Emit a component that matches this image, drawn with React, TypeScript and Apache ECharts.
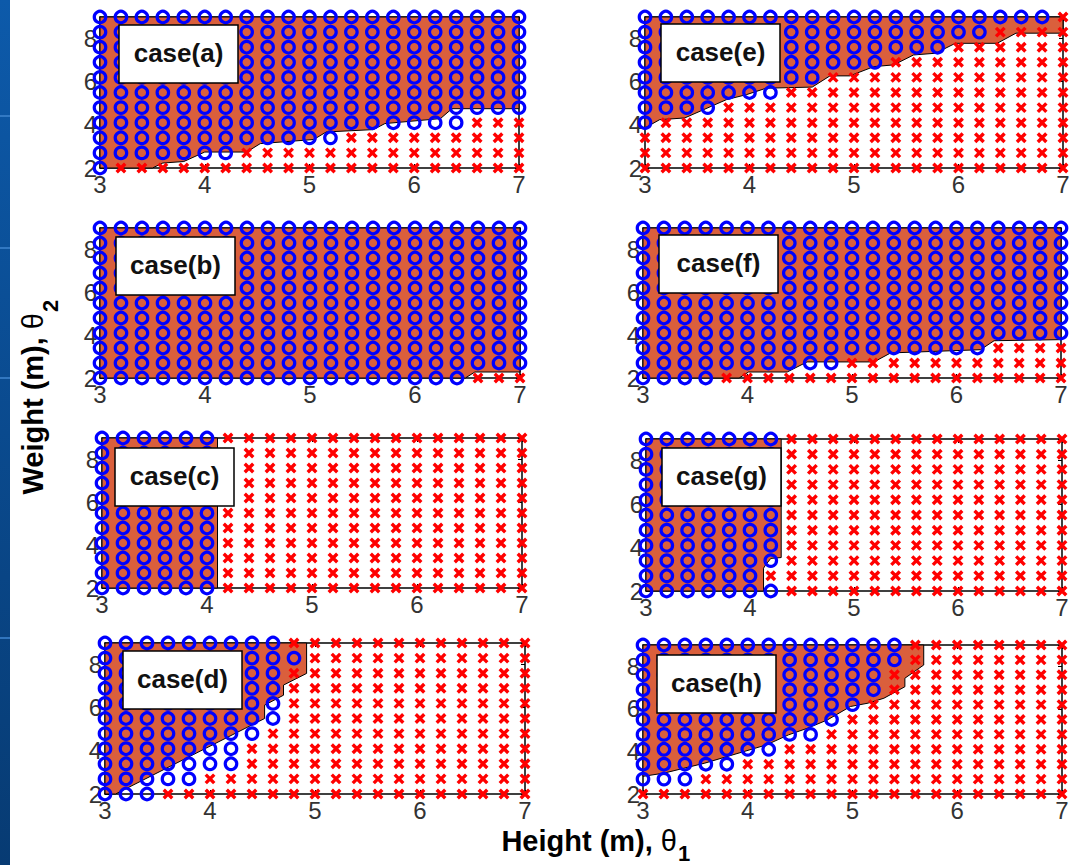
import React, { useEffect, useRef } from "react";
import * as echarts from "echarts";

// Sampling grid of the two parameters
const gridX = [3, 3.2, 3.4, 3.6, 3.8, 4, 4.2, 4.4, 4.6, 4.8, 5, 5.2, 5.4, 5.6, 5.8, 6, 6.2, 6.4, 6.6, 6.8, 7];
const gridY = [2, 2.7, 3.4, 4.1, 4.8, 5.5, 6.2, 6.9, 7.6, 8.3, 9];

// Number of grid columns (counted from the left) marked "o" in each row, bottom row first
const circlesA = [1, 7, 12, 18, 21, 21, 21, 21, 21, 21, 21];
const circlesB = [18, 21, 21, 21, 21, 21, 21, 21, 21, 21, 21];
const circlesC = [6, 6, 6, 6, 6, 6, 6, 6, 6, 6, 6];
const circlesD = [3, 5, 7, 7, 8, 9, 9, 9, 9, 10, 9];
const circlesE = [0, 0, 0, 1, 4, 7, 9, 12, 15, 17, 20];
const circlesF = [4, 10, 17, 21, 21, 21, 21, 21, 21, 21, 21];
const circlesG = [7, 6, 7, 7, 7, 7, 7, 7, 7, 7, 7];
const circlesH = [0, 3, 5, 7, 9, 10, 11, 12, 12, 13, 13];

// Outlines of the shaded feasible regions, [θ1, θ2]
const regionA = [[3, 9], [7, 9], [7, 4.75], [6.36, 4.75], [6.25, 4.29], [5.72, 4.06], [5.61, 3.78], [5.16, 3.67], [5.04, 3.32], [4.53, 3.13], [4.4, 2.74], [4.0, 2.74], [3.8, 2.3], [3.6, 2.23], [3.5, 2], [3, 2]];
const regionB = [[3, 9], [7, 9], [7, 2.28], [6.57, 2.28], [6.48, 2], [3, 2]];
const regionC = [[3, 9], [4.1, 9], [4.1, 2], [3, 2]];
const regionD = [[3, 9], [4.92, 9], [4.92, 7.59], [4.7, 7.05], [4.7, 6.58], [4.52, 6.12], [4.52, 5.5], [3.1, 2], [3, 2]];
const regionE = [[3, 9], [7, 9], [7, 8.25], [6.55, 8.25], [6.37, 7.78], [5.97, 7.78], [5.78, 7.32], [5.57, 7.24], [5.38, 6.78], [5.19, 6.7], [4.96, 6.27], [4.77, 6.27], [4.6, 5.75], [4.16, 5.7], [3.97, 5.4], [3.78, 5.17], [3.38, 4.32], [3.14, 4.24], [3, 3.86]];
const regionF = [[3, 9], [7, 9], [7, 3.79], [6.36, 3.74], [6.23, 3.32], [5.37, 3.17], [5.21, 2.75], [4.57, 2.75], [4.38, 2.28], [4.01, 2.28], [3.92, 2], [3, 2]];
const regionG = [[3, 9], [4.3, 9], [4.3, 3.54], [4.2, 3.5], [4.15, 3.2], [4.13, 3.05], [4.13, 2], [3, 2]];
const regionH = [[3, 9], [5.68, 9], [5.68, 8.06], [5.5, 7.44], [5.5, 7.04], [5.3, 6.5], [5.15, 6.27], [4.98, 6.11], [4.76, 5.48], [4.57, 5.09], [4.39, 4.78], [4.18, 4.31], [3.59, 3.45], [3.2, 2.98], [3, 2.83]];

const caseNames = ["case(a)", "case(b)", "case(c)", "case(d)", "case(e)", "case(f)", "case(g)", "case(h)"];

const FONT = '"Liberation Sans", Arial, Helvetica, sans-serif';
const FILL = "#DA5F3C";

// Panel layout: plot rectangle [left, top, width, height] and label box offset
const panels = [
  { circles: circlesA, region: regionA, rect: [100, 17, 419, 151], box: [19, 8] },
  { circles: circlesB, region: regionB, rect: [100, 228, 420, 150], box: [16, 9] },
  { circles: circlesC, region: regionC, rect: [102, 438, 420, 150], box: [13, 10] },
  { circles: circlesD, region: regionD, rect: [105, 643, 420, 151], box: [18, 8] },
  { circles: circlesE, region: regionE, rect: [645, 17, 418, 151], box: [16, 7] },
  { circles: circlesF, region: regionF, rect: [643, 228, 418, 150], box: [16, 7] },
  { circles: circlesG, region: regionG, rect: [646, 439, 416, 152], box: [16, 9] },
  { circles: circlesH, region: regionH, rect: [643, 645, 419, 149], box: [14, 10] },
];

function splitGrid(counts: number[]) {
  const inside: number[][] = [];
  const outside: number[][] = [];
  gridY.forEach((y, j) => {
    gridX.forEach((x, i) => {
      if (i < counts[j]) inside.push([x, y]);
      else outside.push([x, y]);
    });
  });
  return { inside, outside };
}

const axisLineStyle = { show: true, onZero: false, lineStyle: { color: "#000", width: 1.5 } };
const tickStyle = { show: true, inside: true, length: 4, lineStyle: { color: "#000", width: 1 } };

function buildOption() {
  const grid = panels.map((p) => ({
    left: p.rect[0],
    top: p.rect[1],
    width: p.rect[2],
    height: p.rect[3],
    containLabel: false,
    outerBoundsMode: "none",
  }));

  const xAxis: any[] = [];
  const yAxis: any[] = [];
  const series: any[] = [];
  const graphic: any[] = [];

  panels.forEach((p, k) => {
    xAxis.push({
      gridIndex: k, type: "value", min: 3, max: 7, interval: 1, position: "bottom",
      axisLine: axisLineStyle, axisTick: tickStyle, splitLine: { show: false },
      axisLabel: { fontSize: 24, color: "#333", margin: 4, fontFamily: FONT },
    });
    xAxis.push({
      gridIndex: k, type: "value", min: 3, max: 7, interval: 1, position: "top",
      axisLine: axisLineStyle, axisTick: tickStyle, splitLine: { show: false },
      axisLabel: { show: false },
    });
    yAxis.push({
      gridIndex: k, type: "value", min: 2, max: 9, interval: 2, position: "left",
      axisLine: axisLineStyle, axisTick: tickStyle, splitLine: { show: false },
      axisLabel: { fontSize: 24, color: "#333", margin: 3, fontFamily: FONT, showMaxLabel: false },
    });
    yAxis.push({
      gridIndex: k, type: "value", min: 2, max: 9, interval: 2, position: "right",
      axisLine: axisLineStyle, axisTick: tickStyle, splitLine: { show: false },
      axisLabel: { show: false },
    });

    const { inside, outside } = splitGrid(p.circles);
    const region = p.region;

    series.push({
      type: "custom",
      xAxisIndex: 2 * k,
      yAxisIndex: 2 * k,
      silent: true,
      z: 1,
      clip: false,
      data: region,
      encode: { x: 0, y: 1 },
      renderItem: (params: any, api: any) => {
        if (params.dataIndex !== 0) return null;
        return {
          type: "polygon",
          shape: { points: region.map((pt) => api.coord(pt)) },
          style: { fill: FILL, stroke: "#000", lineWidth: 1 },
        };
      },
    });
    series.push({
      type: "scatter",
      xAxisIndex: 2 * k,
      yAxisIndex: 2 * k,
      silent: true,
      clip: false,
      z: 3,
      symbol: "circle",
      symbolSize: 11.5,
      itemStyle: { color: "rgba(0,0,0,0)", borderColor: "#0000FF", borderWidth: 3.2, opacity: 1 },
      data: inside,
    });
    series.push({
      type: "scatter",
      xAxisIndex: 2 * k,
      yAxisIndex: 2 * k,
      silent: true,
      clip: false,
      z: 3,
      symbol: "path://M0,0L10,10M10,0L0,10",
      symbolSize: 8.5,
      itemStyle: { color: "none", borderColor: "#FF0000", borderWidth: 3.4, opacity: 1 },
      data: outside,
    });

    // case label box
    const bx = p.rect[0] + p.box[0];
    const by = p.rect[1] + p.box[1];
    graphic.push({
      type: "group",
      x: bx,
      y: by,
      z: 100,
      silent: true,
      children: [
        { type: "rect", shape: { x: 0, y: 0, width: 119, height: 58 }, style: { fill: "#fff", stroke: "#000", lineWidth: 1.5 }, z: 100 },
        {
          type: "text", x: 59.5, y: 28, z: 101,
          style: { text: caseNames[k], fill: "#111", font: `bold 26px ${FONT}`, align: "center", verticalAlign: "middle" },
        },
      ],
    });
  });

  // slide background strip on the left edge
  graphic.push({
    type: "rect", z: 0, silent: true,
    shape: { x: 0, y: 0, width: 10, height: 865 },
    style: {
      fill: new echarts.graphic.LinearGradient(0, 0, 0, 1, [
        { offset: 0, color: "#0D5AAA" },
        { offset: 0.5, color: "#0A4A8E" },
        { offset: 1, color: "#073B73" },
      ]),
    },
  });
  [115, 247, 377, 637].forEach((y) => {
    graphic.push({ type: "rect", z: 1, silent: true, shape: { x: 0, y, width: 10, height: 2 }, style: { fill: "#3C82CC", opacity: 0.8 } });
  });

  // axis titles
  const titleRich = {
    b: { fontFamily: FONT, fontWeight: "bold", fontSize: 29, fill: "#000" },
    t: { fontFamily: FONT, fontWeight: "normal", fontSize: 29, fill: "#000" },
  };
  graphic.push({
    type: "text", x: 677, y: 841, z: 100, silent: true,
    style: { text: "{b|Height (m), }{t|θ}", align: "right", verticalAlign: "middle", rich: titleRich },
  });
  graphic.push({
    type: "text", x: 678, y: 853, z: 100, silent: true,
    style: { text: "1", font: `bold 22px ${FONT}`, fill: "#000", align: "left", verticalAlign: "middle" },
  });
  graphic.push({
    type: "group", x: 33, y: 500, rotation: Math.PI / 2, z: 100, silent: true,
    children: [
      {
        type: "text", x: 187, y: 0,
        style: { text: "{b|Weight (m), }{t|θ}", align: "right", verticalAlign: "middle", rich: titleRich },
      },
      {
        type: "text", x: 188, y: 17,
        style: { text: "2", font: `bold 22px ${FONT}`, fill: "#000", align: "left", verticalAlign: "middle" },
      },
    ],
  });

  return {
    animation: false,
    backgroundColor: "#ffffff",
    grid,
    xAxis,
    yAxis,
    series,
    graphic,
  };
}

export default function App() {
  const ref = useRef<HTMLDivElement>(null);
  useEffect(() => {
    if (!ref.current) return;
    const chart = echarts.init(ref.current, undefined, { renderer: "svg" });
    chart.setOption(buildOption() as any);
    return () => chart.dispose();
  }, []);
  return (
    <div
      ref={ref}
      style={{ position: "fixed", left: 0, top: 0, width: 1072, height: 865, background: "#fff" }}
    />
  );
}
